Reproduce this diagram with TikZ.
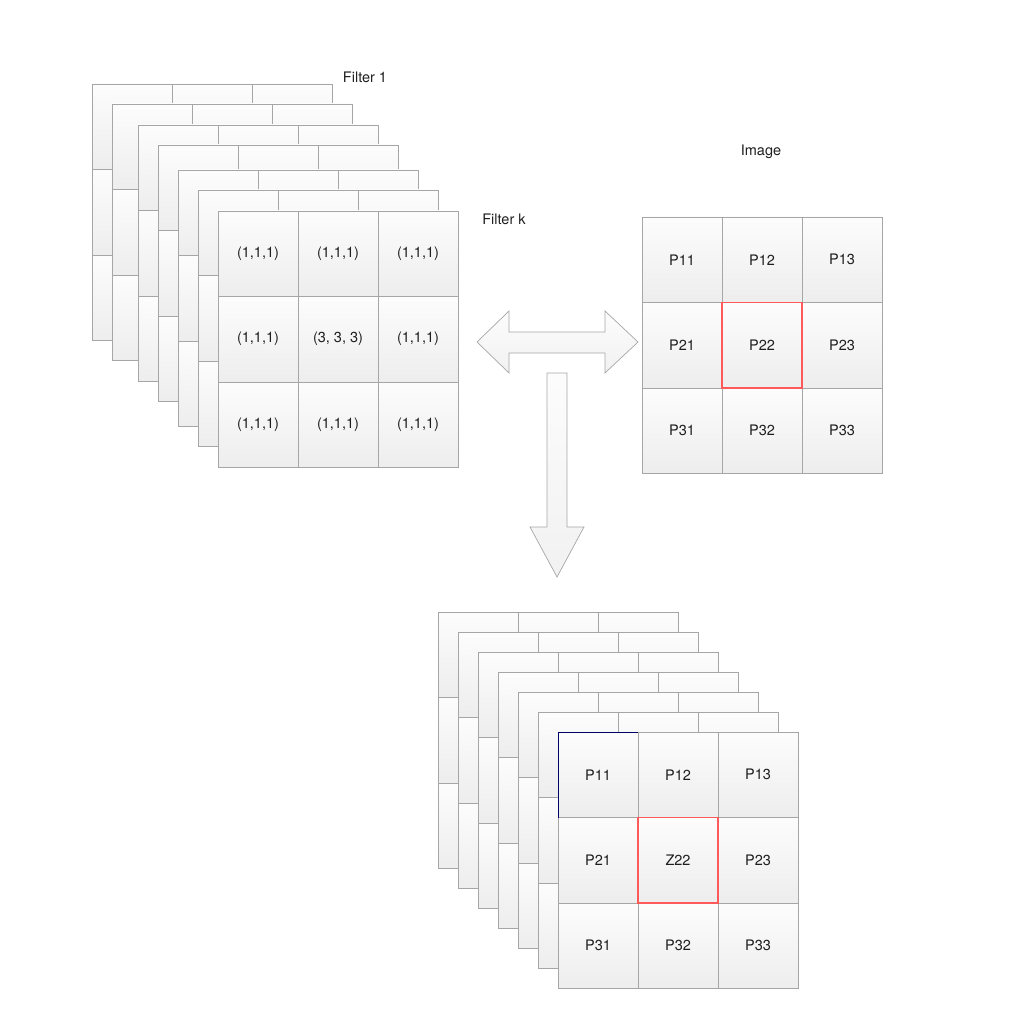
\documentclass[tikz,border=0pt]{standalone}
\usepackage{fontspec}
\setmainfont{TeX Gyre Heros}
\usetikzlibrary{calc}

\begin{document}
\begin{tikzpicture} [x = 1pt, y = -1pt,
    cell/.style = {draw = gray!70, top color = gray!2, bottom color = gray!14, minimum width = 80pt, minimum height = 85.5pt, inner sep = 0pt, text = black!88, font = \fontsize{14.5}{17}\selectfont},
    lbl/.style = {text = black!88, font = \fontsize{14.5}{17}\selectfont},
    pick/.style = {draw = red!65, line width = 1.6pt},
    blockarrow/.style = {draw = gray!70, line width = 0.7pt, top color = gray!2, bottom color = gray!11}]
                \useasboundingbox (0,0) rectangle (1024,1024);
                \foreach \x/\y [count = \l] in {92/84, 112/104, 138/125, 158/145, 178/170, 198/190}
                  \foreach \r in {1,2,3}
                    \foreach \c in {1,2,3}
                      \node [cell] (f\l-\r\c) at ({\x+\c*80-40}, {\y+\r*85.5-42.75}) {};
                \foreach \r in {1,2,3}
                  \foreach \c in {1,2,3}
                    \node [cell] (k\r\c) at ({218+\c*80-40}, {211+\r*85.5-42.75}) {\ifnum\r\c=22 (3, 3, 3)\else(1,1,1)\fi};
                \foreach \r in {1,2,3}
                  \foreach \c in {1,2,3}
                    \node [cell] (img\r\c) at ({642+\c*80-40}, {217+\r*85.5-42.75}) {P\r\c};
                \foreach \x/\y [count = \l] in {438/612, 458/632, 478/652, 498/672, 518/692, 538/712}
                  \foreach \r in {1,2,3}
                    \foreach \c in {1,2,3}
                      \node [cell] (o\l-\r\c) at ({\x+\c*80-40}, {\y+\r*85.5-42.75}) {};
                \foreach \r in {1,2,3}
                  \foreach \c in {1,2,3}
                    \node [cell] (out\r\c) at ({558+\c*80-40}, {732+\r*85.5-42.75}) {\ifnum\r\c=22 Z22\else P\r\c\fi};
                \draw [pick] (img22.north west) rectangle (img22.south east);
                \draw [pick] (out22.north west) rectangle (out22.south east);
                \draw [blue!40!black] (out11.south west) -- (out11.north west) -- (out11.north east);
                \node [lbl] (filter1) at (365,77) {Filter 1};
                \node [lbl] (filterk) at (504,219) {Filter k};
                \node [lbl] (image) at (761,152) {Image};
                \draw [blockarrow] (477,342) -- (509,311) -- (509,332) -- (605,332) -- (605,311) -- (638,342) -- (605,373) -- (605,353) -- (509,353) -- (509,373) -- cycle;
                \draw [blockarrow] (547,373) -- (567,373) -- (567,527) -- (584,527) -- (557,577) -- (530,527) -- (547,527) -- cycle;
            \end{tikzpicture}
\end{document}
